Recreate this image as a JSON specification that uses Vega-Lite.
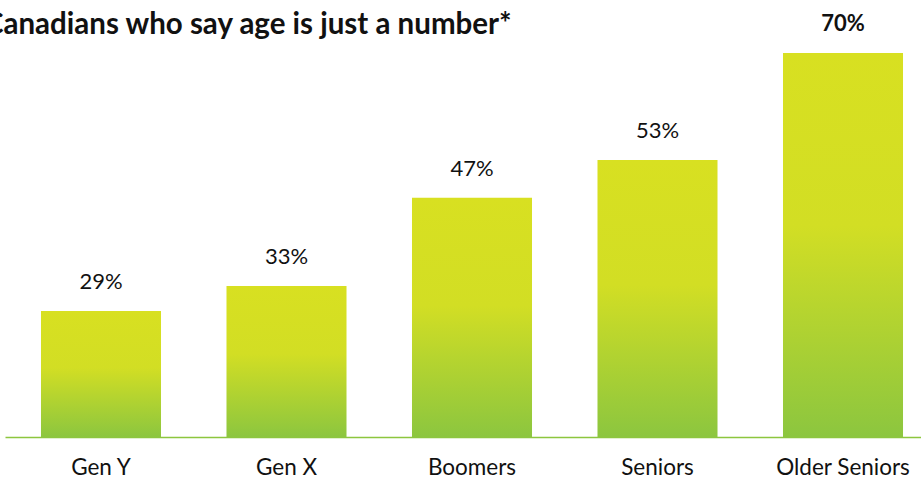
{
  "$schema": "https://vega.github.io/schema/vega-lite/v6.json",
  "width": 934,
  "height": 377,
  "autosize": {"type": "none"},
  "padding": {"left": 5, "top": 60, "right": 0, "bottom": 44},
  "background": "white",
  "view": {"stroke": null},
  "title": {
    "text": "Canadians who say age is just a number*",
    "anchor": "start",
    "dx": -21,
    "offset": -27,
    "font": "Lato",
    "fontSize": 29.5,
    "fontWeight": "bold",
    "color": "#111111"
  },
  "data": {
    "values": [
      {"group": "Gen Y", "share": 0.29},
      {"group": "Gen X", "share": 0.33},
      {"group": "Boomers", "share": 0.47},
      {"group": "Seniors", "share": 0.53},
      {"group": "Older Seniors", "share": 0.70}
    ]
  },
  "encoding": {
    "x": {
      "field": "group",
      "type": "nominal",
      "sort": null,
      "scale": {"paddingInner": 0.353, "paddingOuter": 0.194},
      "axis": {
        "title": null,
        "labelAngle": 0,
        "ticks": false,
        "labelFont": "Lato",
        "labelFontSize": 22.5,
        "labelColor": "#111111",
        "labelPadding": 19,
        "domainColor": "#8dc63f",
        "domainWidth": 1.5
      }
    },
    "y": {
      "field": "share",
      "type": "quantitative",
      "scale": {"domain": [0.09, 0.689], "zero": false},
      "axis": null
    }
  },
  "layer": [
    {
      "mark": {
        "type": "bar",
        "clip": false,
        "color": {
          "gradient": "linear",
          "x1": 0, "y1": 0, "x2": 0, "y2": 1,
          "stops": [
            {"offset": 0, "color": "#d8e021"},
            {"offset": 0.45, "color": "#d2de24"},
            {"offset": 1, "color": "#8cc63f"}
          ]
        }
      },
      "encoding": {
        "y2": {"datum": 0.09}
      }
    },
    {
      "transform": [{"filter": "datum.group !== 'Older Seniors'"}],
      "mark": {
        "type": "text",
        "baseline": "bottom",
        "dy": -17,
        "font": "Lato",
        "fontSize": 22,
        "color": "#111111"
      },
      "encoding": {
        "text": {"field": "share", "type": "quantitative", "format": ".0%"}
      }
    },
    {
      "transform": [{"filter": "datum.group === 'Older Seniors'"}],
      "mark": {
        "type": "text",
        "baseline": "bottom",
        "dy": -17,
        "font": "Lato",
        "fontSize": 22,
        "fontWeight": "bold",
        "color": "#111111"
      },
      "encoding": {
        "text": {"field": "share", "type": "quantitative", "format": ".0%"}
      }
    }
  ]
}
